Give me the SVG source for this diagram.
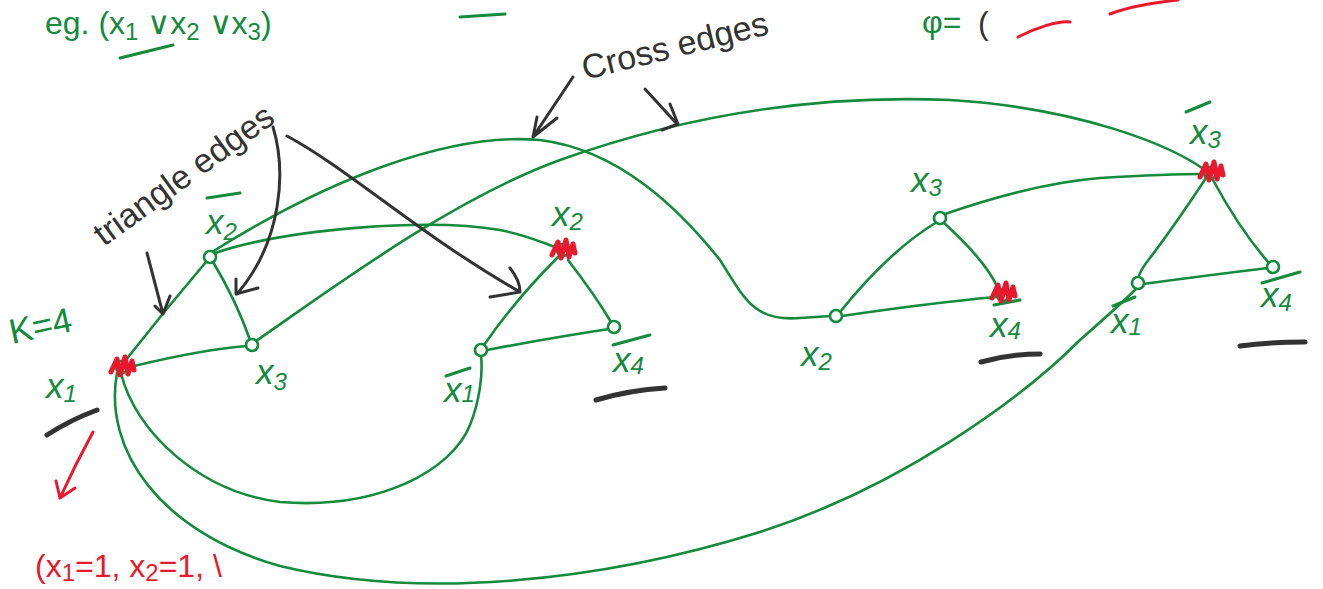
<svg xmlns="http://www.w3.org/2000/svg" width="1323" height="589" viewBox="0 0 1323 589">
<style>
.e{fill:none;stroke:#138a3c;stroke-width:2.6;stroke-linecap:round}
.n{fill:#fff;stroke:#138a3c;stroke-width:2.6}
.g{fill:#138a3c;font-family:"Liberation Sans",Arial,sans-serif;font-size:35px;font-style:italic}
.k{fill:#333;font-family:"Liberation Sans",Arial,sans-serif;font-size:34px}
.r{fill:#e8192c;font-family:"Liberation Sans",Arial,sans-serif;font-size:32px}
.ol{fill:none;stroke:#138a3c;stroke-width:3;stroke-linecap:round}
.ka{fill:none;stroke:#333;stroke-width:3;stroke-linecap:round;stroke-linejoin:round}
.ku{fill:none;stroke:#333;stroke-width:5;stroke-linecap:round}
.ra{fill:none;stroke:#e8192c;stroke-width:3;stroke-linecap:round;stroke-linejoin:round}
.sub{font-size:24px}
</style>
<defs>
<path id="scr" d="M-11,5 L-5,-8 L-2,8 L3,-10 L6,7 L10,-6 L12,3" fill="none" stroke="#e8192c" stroke-width="5" stroke-linejoin="round" stroke-linecap="round"/>
</defs>
<rect width="1323" height="589" fill="#fff"/>

<!-- header texts -->
<g id="header">
<text class="g" x="45" y="34" style="font-style:normal;font-size:32px">eg. (x<tspan class="sub" dy="6">1</tspan><tspan dy="-6"> ∨x</tspan><tspan class="sub" dy="6">2</tspan><tspan dy="-6"> ∨x</tspan><tspan class="sub" dy="6">3</tspan><tspan dy="-6">)</tspan></text>
<path class="ol" d="M120,58 L173,45" stroke-width="4"/>
<path class="ol" d="M460,17 L505,14" stroke-width="4"/>
<text class="g" x="922" y="33" style="font-style:normal;font-size:32px">φ=</text>
<text class="k" x="978" y="34" style="font-size:32px">(</text>
<path class="ra" d="M1018,37 C1035,28 1060,20 1070,22" stroke-width="4"/>
<path class="ra" d="M1110,14 C1130,6 1160,2 1178,0" stroke-width="5"/>
</g>

<!-- connectors -->
<g id="connectors">
<!-- triangle 1 -->
<path class="e" d="M125,361 Q165,310 206,262"/>
<path class="e" d="M213,262 Q236,300 250,340"/>
<path class="e" d="M134,366 C180,355 220,348 247,346"/>
<!-- triangle 2 -->
<path class="e" d="M559,256 Q515,300 484,345"/>
<path class="e" d="M568,260 Q595,295 611,322"/>
<path class="e" d="M487,350 Q550,338 609,329"/>
<!-- triangle 3 -->
<path class="e" d="M840,312 Q890,250 937,222"/>
<path class="e" d="M944,223 Q985,260 998,288"/>
<path class="e" d="M842,316 Q930,303 996,297"/>
<!-- triangle 4 -->
<path class="e" d="M1206,178 Q1175,225 1150,258 Q1140,270 1138,279"/>
<path class="e" d="M1213,180 Q1240,230 1269,263"/>
<path class="e" d="M1143,284 Q1210,275 1268,268"/>
<!-- cross edges -->
<path class="e" d="M215,253 C290,228 430,218 500,230 C530,236 545,244 558,248"/>
<path class="e" d="M212,252 C330,178 450,132 540,140 C620,150 680,210 720,260 C745,300 755,322 800,318 L831,316"/>
<path class="e" d="M256,341 C330,290 450,200 560,160 C700,110 830,95 950,100 C1080,108 1170,145 1205,170"/>
<path class="e" d="M945,214 C1000,195 1050,182 1100,178 C1150,175 1190,174 1205,174"/>
<path class="e" d="M121,373 C135,432 200,492 280,502 C380,510 452,470 470,425 C480,400 483,372 481,356"/>
<path class="e" d="M117,373 C103,450 160,532 280,566 C420,600 600,582 760,532 C900,487 1020,400 1080,340 C1105,318 1125,300 1136,289"/>
</g>

<!-- annotations -->
<g id="annotations">
<text class="k" transform="translate(104,247) rotate(-36)">triangle edges</text>
<path class="ka" d="M147,253 L163,314 M155,306 L163,314 L170,296"/>
<path class="ka" d="M273,127 C286,170 283,240 237,294 M236,279 L236,294 L258,288"/>
<path class="ka" d="M287,136 C350,170 420,235 520,292 M510,268 C518,278 520,285 520,292 L490,297"/>
<text class="k" transform="translate(585,80) rotate(-14)">Cross edges</text>
<path class="ka" d="M573,77 L533,137 M537,117 L533,137 L557,118"/>
<path class="ka" d="M645,89 L677,124 M670,104 L678,124 L662,130"/>
<text class="g" transform="translate(12,344) rotate(-12)" style="font-style:normal">K=4</text>
<path class="ku" d="M47,435 Q70,420 97,410"/>
<path class="ra" d="M93,432 Q75,465 60,498 M56,481 L60,498 L75,488"/>
<text class="r" x="35" y="577">(x<tspan class="sub" dy="4">1</tspan><tspan dy="-4">=1, x</tspan><tspan class="sub" dy="4">2</tspan><tspan dy="-4">=1, \</tspan></text>
</g>

<!-- group 1 -->
<g id="n_x1">
<circle class="n" cx="122" cy="367" r="6"/>
<use href="#scr" x="122" y="367"/>
<text class="g" x="46" y="398">x<tspan class="sub" dy="4">1</tspan></text>
</g>
<g id="n_nx2">
<circle class="n" cx="210" cy="257" r="6"/>
<path class="ol" d="M207,198 L240,193"/>
<text class="g" x="206" y="234">x<tspan class="sub" dy="6">2</tspan></text>
</g>
<g id="n_x3">
<circle class="n" cx="252" cy="345" r="6"/>
<text class="g" x="256" y="384">x<tspan class="sub" dy="6">3</tspan></text>
</g>

<!-- group 2 -->
<g id="n_x2">
<circle class="n" cx="563" cy="250" r="6"/>
<use href="#scr" x="563" y="250"/>
<text class="g" x="552" y="226">x<tspan class="sub" dy="4">2</tspan></text>
</g>
<g id="n_nx1">
<circle class="n" cx="481" cy="350" r="6"/>
<path class="ol" d="M446,376 L470,368"/>
<text class="g" x="444" y="402">x<tspan class="sub" dy="0">1</tspan></text>
</g>
<g id="n_nx4">
<circle class="n" cx="614" cy="327" r="6"/>
<path class="ol" d="M613,345 L650,335"/>
<text class="g" x="613" y="372">x<tspan class="sub" dy="2">4</tspan></text>
<path class="ku" d="M596,400 Q630,390 665,388"/>
</g>

<!-- group 3 -->
<g id="n_x2b">
<circle class="n" cx="836" cy="316" r="6"/>
<text class="g" x="801" y="366">x<tspan class="sub" dy="4">2</tspan></text>
</g>
<g id="n_x3b">
<circle class="n" cx="940" cy="218" r="6"/>
<text class="g" x="911" y="192">x<tspan class="sub" dy="4">3</tspan></text>
</g>
<g id="n_nx4b">
<circle class="n" cx="1003" cy="295" r="6"/>
<path class="ol" d="M994,305 L1020,300"/>
<use href="#scr" x="1003" y="293"/>
<text class="g" x="990" y="337">x<tspan class="sub" dy="2">4</tspan></text>
<path class="ku" d="M981,362 Q1010,354 1040,354"/>
</g>

<!-- group 4 -->
<g id="n_nx3">
<circle class="n" cx="1210" cy="173" r="6"/>
<path class="ol" d="M1186,112 L1210,102"/>
<use href="#scr" x="1211" y="172"/>
<text class="g" x="1190" y="144">x<tspan class="sub" dy="4">3</tspan></text>
</g>
<g id="n_nx1b">
<circle class="n" cx="1138" cy="283" r="6"/>
<path class="ol" d="M1113,306 L1135,297"/>
<text class="g" x="1111" y="333">x<tspan class="sub" dy="2">1</tspan></text>
</g>
<g id="n_nx4c">
<circle class="n" cx="1273" cy="267" r="6"/>
<path class="ol" d="M1262,283 L1300,272"/>
<text class="g" x="1261" y="307">x<tspan class="sub" dy="4">4</tspan></text>
<path class="ku" d="M1240,346 Q1270,342 1305,342"/>
</g>
</svg>
